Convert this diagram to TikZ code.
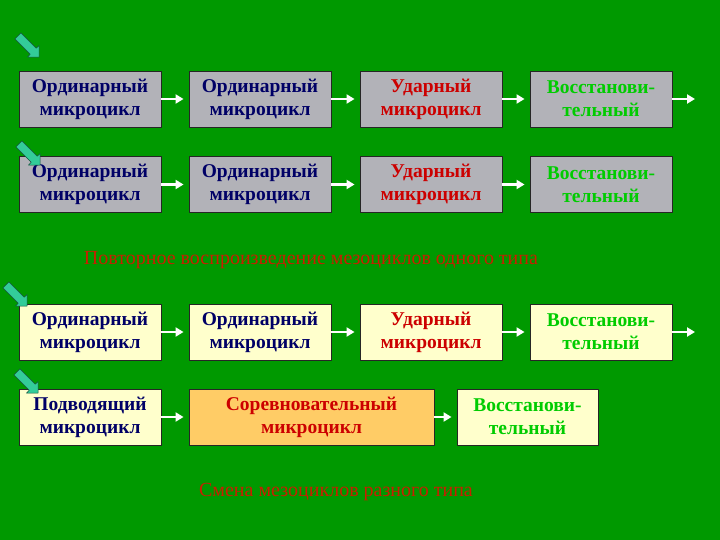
\documentclass[tikz,border=0pt]{standalone}
\usepackage{fontspec}
\setmainfont{Liberation Serif}
\usetikzlibrary{arrows.meta,shapes.arrows}
\definecolor{bggreen}{RGB}{0,153,0}
\definecolor{boxgray}{RGB}{178,178,184}
\definecolor{boxyellow}{RGB}{255,255,204}
\definecolor{boxorange}{RGB}{255,204,102}
\definecolor{txtblue}{RGB}{0,0,102}
\definecolor{txtred}{RGB}{204,0,0}
\definecolor{txtgreen}{RGB}{0,204,0}
\definecolor{capred}{RGB}{200,30,0}
\definecolor{teal}{RGB}{51,204,153}
\begin{document}
\begin{tikzpicture}[x=1pt,y=-1pt, line join=round,
	cell/.style={draw=black!85, line width=0.9pt, minimum width=142, minimum height=56,
		inner sep=0pt, align=center, font=\fontsize{19.5}{23}\selectfont\bfseries},
	grey/.style={cell, fill=boxgray},
	pale/.style={cell, fill=boxyellow},
	link/.style={white, line width=2.6pt, -{Triangle[length=8pt,width=9pt]}, shorten >=5pt},
	pointer/.style={single arrow, fill=teal, draw=teal!40!black, line width=0.5pt,
		minimum height=30, inner sep=4pt, single arrow head extend=4pt, rotate=-45},
	caption/.style={text=capred, font=\fontsize{20}{22}\selectfont}]
	\fill[bggreen] (0,0) rectangle (720,540);
	\def\xa{90} \def\xb{260} \def\xc{431} \def\xd{601}
	% one type repeated
	\node[grey] (a1) at (\xa,99) {\color{txtblue}Ординарный\\\color{txtblue}микроцикл};
	\node[grey] (a2) at (\xb,99) {\color{txtblue}Ординарный\\\color{txtblue}микроцикл};
	\node[grey] (a3) at (\xc,99) {\color{txtred}Ударный\\\color{txtred}микроцикл};
	\node[grey] (a4) at (\xd,99) {\color{txtgreen}Восстанови-\\\color{txtgreen}тельный};
	\coordinate (a5) at (700,99);
	\node[grey] (b1) at (\xa,184.5) {\color{txtblue}Ординарный\\\color{txtblue}микроцикл};
	\node[grey] (b2) at (\xb,184.5) {\color{txtblue}Ординарный\\\color{txtblue}микроцикл};
	\node[grey] (b3) at (\xc,184.5) {\color{txtred}Ударный\\\color{txtred}микроцикл};
	\node[grey] (b4) at (\xd,184.5) {\color{txtgreen}Восстанови-\\\color{txtgreen}тельный};
	\foreach \r in {a,b}
	{\draw[link] (\r1.east)--(\r2.west);
		\draw[link] (\r2.east)--(\r3.west);
		\draw[link] (\r3.east)--(\r4.west);}
	\draw[link] (a4.east)--(a5);
	\node[pointer] (p1) at (27,45) {};
	\node[pointer] (p2) at (28,153) {};
	\node[caption] (t1) at (311,260) {Повторное воспроизведение мезоциклов одного типа};
	% different types
	\node[pale] (c1) at (\xa,332) {\color{txtblue}Ординарный\\\color{txtblue}микроцикл};
	\node[pale] (c2) at (\xb,332) {\color{txtblue}Ординарный\\\color{txtblue}микроцикл};
	\node[pale] (c3) at (\xc,332) {\color{txtred}Ударный\\\color{txtred}микроцикл};
	\node[pale] (c4) at (\xd,332) {\color{txtgreen}Восстанови-\\\color{txtgreen}тельный};
	\coordinate (c5) at (700,332);
	\draw[link] (c1.east)--(c2.west);
	\draw[link] (c2.east)--(c3.west);
	\draw[link] (c3.east)--(c4.west);
	\draw[link] (c4.east)--(c5);
	\node[pale] (d1) at (\xa,417) {\color{txtblue}Подводящий\\\color{txtblue}микроцикл};
	\node[cell, fill=boxorange, minimum width=245] (d2) at (311.5,417)
		{\color{txtred}Соревновательный\\\color{txtred}микроцикл};
	\node[pale, minimum width=141] (d3) at (527.5,417) {\color{txtgreen}Восстанови-\\\color{txtgreen}тельный};
	\draw[link] (d1.east)--(d2.west);
	\draw[link] (d2.east)--(d3.west);
	\node[pointer] (p3) at (15,294) {};
	\node[pointer] (p4) at (26,381) {};
	\node[caption] (t2) at (336,492) {Смена мезоциклов разного типа};
\end{tikzpicture}
\end{document}
